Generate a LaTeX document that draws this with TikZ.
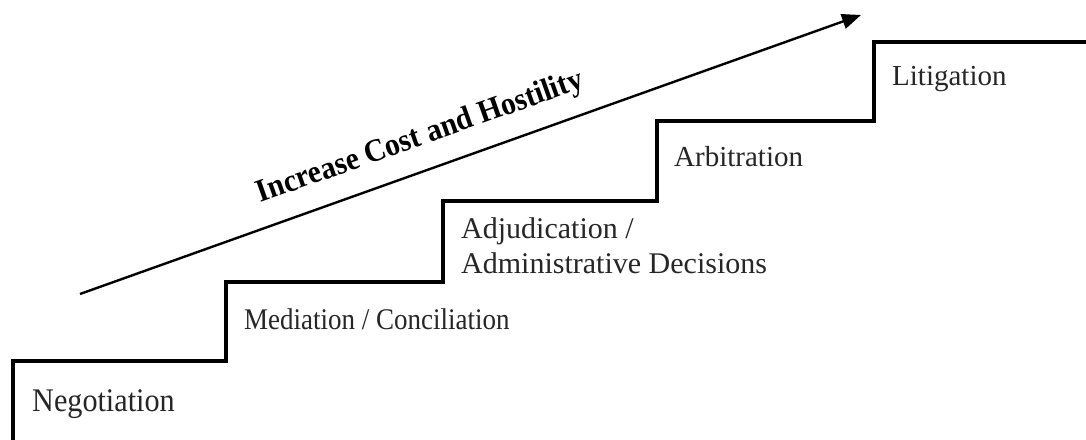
\documentclass[tikz,border=0pt]{standalone}
\usepackage{fontspec}
\setmainfont{Liberation Serif}
\usetikzlibrary{arrows.meta}
\begin{document}
\begin{tikzpicture}[x=1pt,y=-1pt,
  stair/.style={line width=3.6pt, line join=miter, black},
  lbl/.style={inner sep=0pt, anchor=base west, text=black!85},
  arrowline/.style={line width=2.4pt, -{Triangle[length=19pt,width=15pt]}},
  arrlbl/.style={inner sep=0pt, anchor=base, rotate=19.6, font=\bfseries\fontsize{32}{37}\selectfont}]
\useasboundingbox (0,0) rectangle (1086,439);
\draw[stair] (13,441) -- (13,361) -- (226,361) -- (226,282) -- (443,282) -- (443,201)
  -- (657,201) -- (657,121) -- (874,121) -- (874,42) -- (1088,42);
\node[lbl, font=\fontsize{33}{38}\selectfont] (neg) at (32,411) {\scalebox{0.915}[1]{Negotiation}};
\node[lbl, font=\fontsize{30}{35}\selectfont] (med) at (244,329) {\scalebox{0.9}[1]{Mediation / Conciliation}};
\node[lbl, font=\fontsize{30}{35}\selectfont, align=left] (adj) at (461,273) {Adjudication /\\Administrative Decisions};
\node[lbl, font=\fontsize{29}{34}\selectfont] (arb) at (674,166) {Arbitration};
\node[lbl, font=\fontsize{29}{34}\selectfont] (lit) at (892,85) {Litigation};
\coordinate (arrS) at (80,294);
\coordinate (arrE) at (861,15);
\draw[arrowline] (arrS) -- (arrE);
\node[arrlbl] (cost) at (423,145) {\scalebox{0.93}[1]{Increase Cost and Hostility}};
\end{tikzpicture}
\end{document}
